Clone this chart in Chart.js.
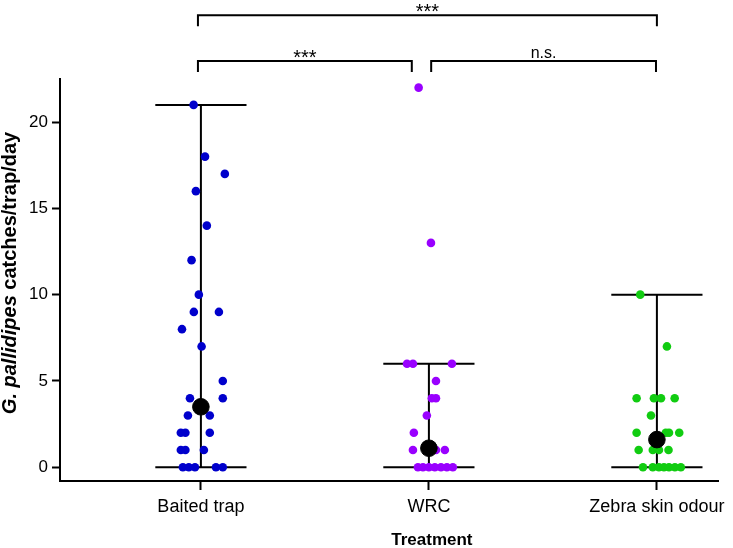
<!DOCTYPE html>
<html>
<head>
<meta charset="utf-8">
<script src="https://cdn.jsdelivr.net/npm/chart.js@4.4.0/dist/chart.umd.min.js"></script>
<style>
  html, body { margin: 0; padding: 0; background: #fff; }
  #wrap { width: 733px; height: 548px; }
</style>
</head>
<body>
<div id="wrap"><canvas id="stripChart"></canvas></div>
<script>
const categories = ['Baited trap', 'WRC', 'Zebra skin odour'];
const yTicks = [0, 5, 10, 15, 20];

const baitedValues = [21, 18, 17, 16, 14, 12, 10, 9, 9, 8, 7, 5, 4, 4, 3, 3, 2, 2, 2, 1, 1, 1, 0, 0, 0, 0, 0];
const baitedJitter = [-0.032, 0.018, 0.105, -0.022, 0.026, -0.041, -0.009, -0.031, 0.079, -0.083, 0.003, 0.096, -0.048, 0.096, -0.057, 0.039, -0.088, -0.068, 0.039, -0.088, -0.068, 0.013, -0.079, -0.053, -0.026, 0.066, 0.096];

const wrcValues = [22, 13, 6, 6, 6, 5, 4, 4, 3, 2, 1, 1, 1, 0, 0, 0, 0, 0, 0, 0];
const wrcJitter = [-0.045, 0.009, -0.096, -0.070, 0.101, 0.031, 0.013, 0.031, -0.009, -0.066, -0.070, 0.031, 0.070, -0.048, -0.026, 0, 0.026, 0.053, 0.079, 0.105];

const zebraValues = [10, 7, 4, 4, 4, 4, 3, 2, 2, 2, 2, 1, 1, 1, 1, 0, 0, 0, 0, 0, 0, 0];
const zebraJitter = [-0.073, 0.044, -0.089, -0.013, 0.018, 0.078, -0.026, -0.089, 0.039, 0.053, 0.098, -0.080, -0.018, 0.009, 0.051, -0.061, -0.018, 0.009, 0.031, 0.053, 0.079, 0.105];

const meanValues = [3.5, 1.1, 1.6];
const errLow = [0, 0, 0];
const errHigh = [21, 6, 10];

// significance brackets: [from, to] in category units, level in y units
const brackets = [
    { from: -0.013, to: 0.925, level: 23.55, label: '***' },
    { from: 1.01, to: 1.996, level: 23.55, label: 'n.s.' },
    { from: -0.013, to: 2.0, level: 26.2, label: '***' }
];

const FONT = "'Liberation Sans', Arial, sans-serif";
const capHalf = 0.2;

function toPoints(values, jitter, idx) {
    return values.map((v, i) => ({ x: idx + jitter[i], y: v }));
}

function errorBarPath(idx) {
    return [
        { x: idx - capHalf, y: errHigh[idx] }, { x: idx + capHalf, y: errHigh[idx] },
        { x: idx, y: null },
        { x: idx, y: errHigh[idx] }, { x: idx, y: errLow[idx] },
        { x: idx, y: null },
        { x: idx - capHalf, y: errLow[idx] }, { x: idx + capHalf, y: errLow[idx] }
    ];
}

const errorSets = categories.map((c, i) => ({
    type: 'line',
    data: errorBarPath(i),
    borderColor: '#000',
    borderWidth: 2,
    pointRadius: 0,
    spanGaps: false,
    fill: false,
    order: 2
}));

const annotations = {
    id: 'annotations',
    afterDraw(chart) {
        const ctx = chart.ctx;
        const xs = chart.scales.x, ys = chart.scales.y;
        ctx.save();
        ctx.strokeStyle = '#000';
        ctx.fillStyle = '#000';
        ctx.lineWidth = 2;
        brackets.forEach(b => {
            const x1 = xs.getPixelForValue(b.from);
            const x2 = xs.getPixelForValue(b.to);
            const y = ys.getPixelForValue(b.level);
            ctx.beginPath();
            ctx.moveTo(x1, y + 11);
            ctx.lineTo(x1, y);
            ctx.lineTo(x2, y);
            ctx.lineTo(x2, y + 11);
            ctx.stroke();
            ctx.textAlign = 'center';
            ctx.textBaseline = 'alphabetic';
            if (b.label === '***') {
                ctx.font = '20px ' + FONT;
                ctx.fillText(b.label, (x1 + x2) / 2, y + 3);
            } else {
                ctx.font = '16px ' + FONT;
                ctx.fillText(b.label, (x1 + x2) / 2, y - 3);
            }
        });

        // x axis title, centred under the middle category
        ctx.font = 'bold 17px ' + FONT;
        ctx.textAlign = 'center';
        ctx.fillText('Treatment', xs.getPixelForValue(1) + 3, 545);

        // y axis title with italic species name
        const part1 = 'G. pallidipes', part2 = ' catches/trap/day';
        const f1 = 'italic bold 20px ' + FONT, f2 = 'bold 20px ' + FONT;
        ctx.font = f1; const w1 = ctx.measureText(part1).width;
        ctx.font = f2; const w2 = ctx.measureText(part2).width;
        ctx.translate(16, (chart.chartArea.top + chart.chartArea.bottom) / 2 - 7);
        ctx.rotate(-Math.PI / 2);
        ctx.textAlign = 'left';
        const start = -(w1 + w2) / 2;
        ctx.font = f1; ctx.fillText(part1, start, 0);
        ctx.font = f2; ctx.fillText(part2, start + w1, 0);
        ctx.restore();
    }
};

new Chart(document.getElementById('stripChart'), {
    type: 'scatter',
    data: {
        datasets: [
            {
                data: meanValues.map((v, i) => ({ x: i, y: v })),
                backgroundColor: '#000',
                borderColor: '#000',
                pointRadius: 8.3,
                order: 0
            },
            {
                data: toPoints(baitedValues, baitedJitter, 0),
                backgroundColor: '#0000cc',
                borderWidth: 0,
                pointRadius: 4.3,
                order: 1
            },
            {
                data: toPoints(wrcValues, wrcJitter, 1),
                backgroundColor: '#9900ff',
                borderWidth: 0,
                pointRadius: 4.3,
                order: 1
            },
            {
                data: toPoints(zebraValues, zebraJitter, 2),
                backgroundColor: '#11cc11',
                borderWidth: 0,
                pointRadius: 4.3,
                order: 1
            },
            ...errorSets
        ]
    },
    options: {
        responsive: true,
        maintainAspectRatio: false,
        animation: false,
        layout: { padding: { top: 79, right: 15, left: 0, bottom: 0 } },
        plugins: {
            legend: { display: false },
            tooltip: { enabled: false }
        },
        scales: {
            x: {
                type: 'linear',
                min: -0.618,
                max: 2.268,
                afterFit: axis => { axis.height = 67; },
                afterBuildTicks: axis => { axis.ticks = categories.map((c, i) => ({ value: i })); },
                grid: { drawOnChartArea: false, tickLength: 9, tickWidth: 2, tickColor: '#000' },
                border: { display: true, color: '#000', width: 2 },
                ticks: {
                    color: '#000',
                    font: { family: FONT, size: 18 },
                    padding: 6,
                    maxRotation: 0,
                    callback: v => categories[v]
                }
            },
            y: {
                min: -0.8,
                max: 22.5,
                afterFit: axis => { axis.width = 60; },
                afterBuildTicks: axis => { axis.ticks = yTicks.map(v => ({ value: v })); },
                grid: { drawOnChartArea: false, tickLength: 8, tickWidth: 2, tickColor: '#000' },
                border: { display: true, color: '#000', width: 2 },
                ticks: {
                    color: '#000',
                    font: { family: FONT, size: 17 },
                    padding: 4
                }
            }
        }
    },
    plugins: [annotations]
});
</script>
</body>
</html>
